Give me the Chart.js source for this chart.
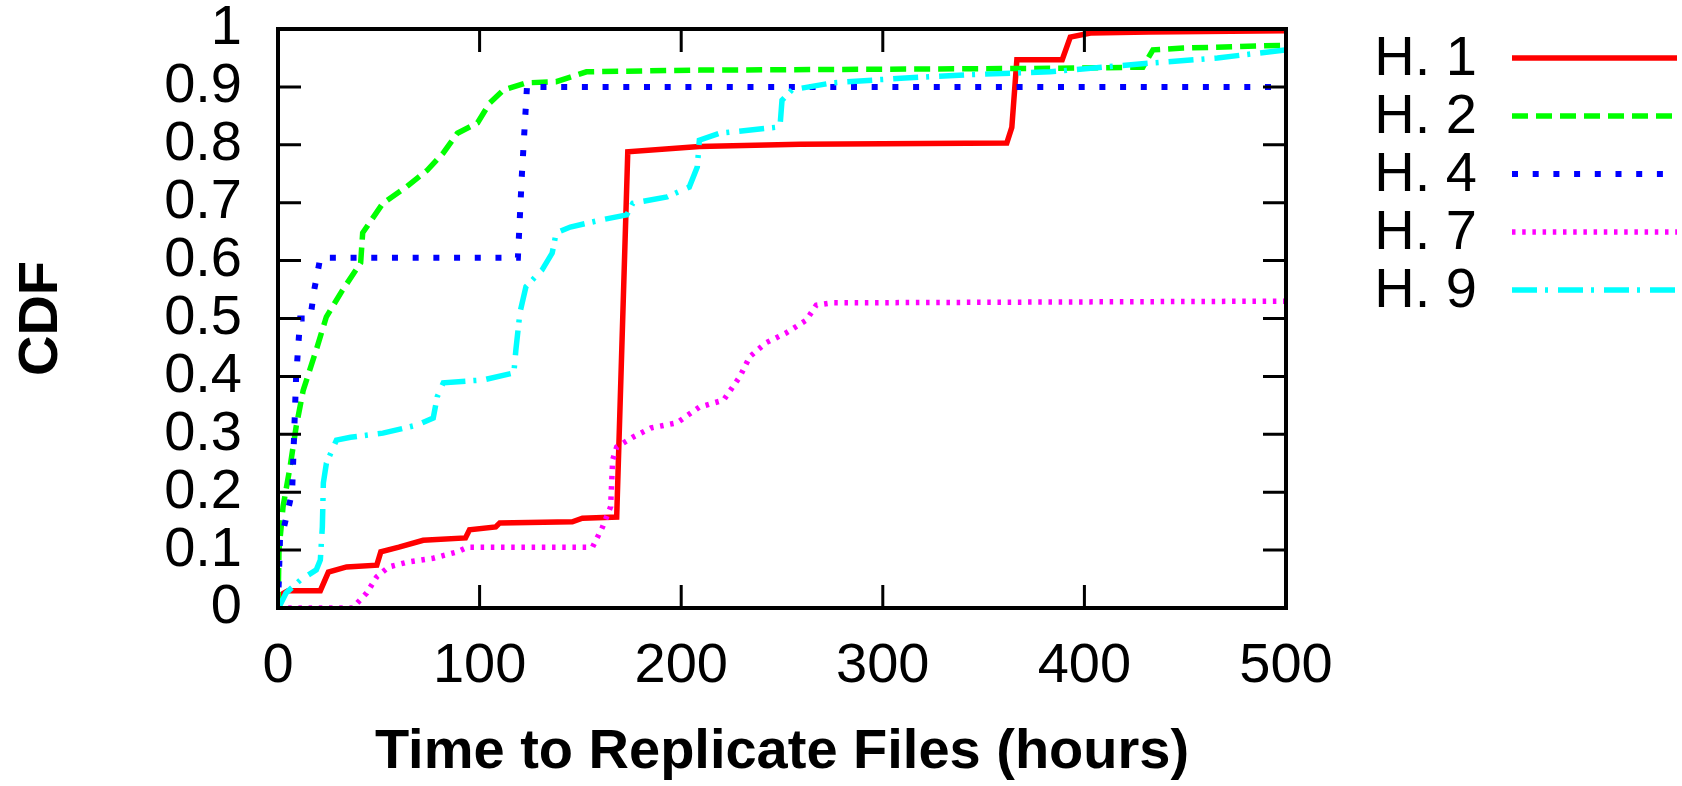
<!DOCTYPE html>
<html>
<head>
<meta charset="utf-8">
<title>CDF of time to replicate files</title>
<script src="https://cdn.jsdelivr.net/npm/chart.js@4.4.1/dist/chart.umd.min.js"></script>
<style>
  html, body { margin: 0; padding: 0; background: #fff; }
  #wrap { width: 1682px; height: 786px; position: relative; }
</style>
</head>
<body>
<div id="wrap"><canvas id="cdf"></canvas></div>
<script>
/* ── Data ───────────────────────────────────────────────────── */
const xTicks = [0, 100, 200, 300, 400, 500];
const yTicks = [0, 0.1, 0.2, 0.3, 0.4, 0.5, 0.6, 0.7, 0.8, 0.9, 1];
const xTitle = 'Time to Replicate Files (hours)';
const yTitle = 'CDF';

const h1Hours = [0, 5, 21, 25, 34, 49, 51, 60, 72, 93, 95, 108, 110, 146, 151, 168, 173.5, 209, 259, 361.5, 364, 366.5, 389, 393, 403, 432, 500];
const h1Cdf   = [0.02, 0.03, 0.03, 0.062, 0.071, 0.074, 0.097, 0.105, 0.117, 0.121, 0.135, 0.14, 0.147, 0.149, 0.155, 0.157, 0.788, 0.797, 0.801, 0.803, 0.83, 0.947, 0.947, 0.986, 0.993, 0.995, 0.997];

const h2Hours = [0, 0.5, 2.5, 6, 9, 12.5, 19, 24, 32, 41, 42, 52, 64, 74, 82, 89, 99, 105, 112, 123, 138, 145, 153, 209, 383, 429, 434, 449, 500];
const h2Cdf   = [0, 0.1, 0.175, 0.244, 0.313, 0.376, 0.446, 0.503, 0.549, 0.596, 0.648, 0.699, 0.728, 0.756, 0.786, 0.82, 0.838, 0.872, 0.895, 0.907, 0.909, 0.917, 0.926, 0.929, 0.932, 0.934, 0.964, 0.967, 0.972];

const h4Hours = [0, 1, 3, 7, 8, 9, 11, 16, 18, 21, 119, 121, 123.5, 500];
const h4Cdf   = [0, 0.12, 0.14, 0.2, 0.3, 0.4, 0.5, 0.5, 0.55, 0.605, 0.605, 0.75, 0.9, 0.9];

const h7Hours = [0, 37, 44, 49, 55, 64, 77, 89, 94, 156, 161, 165, 166, 168, 176, 185, 198, 209, 221, 229, 234, 242, 252, 262, 267, 275, 500];
const h7Cdf   = [0, 0, 0.026, 0.054, 0.071, 0.079, 0.086, 0.097, 0.105, 0.105, 0.14, 0.175, 0.256, 0.278, 0.295, 0.311, 0.32, 0.347, 0.359, 0.399, 0.434, 0.458, 0.475, 0.497, 0.523, 0.527, 0.53];

const h9Hours = [0, 1, 4, 11, 19, 21, 22, 22.5, 24, 29, 36, 52, 69, 77, 79, 82, 102, 117, 118, 120, 123, 131, 136, 138, 145, 160, 173, 176, 193, 204, 208, 209, 219, 249, 250, 255, 275, 309, 342, 383, 432, 466, 500];
const h9Cdf   = [0, 0.005, 0.026, 0.048, 0.066, 0.083, 0.14, 0.216, 0.25, 0.29, 0.295, 0.302, 0.316, 0.328, 0.365, 0.389, 0.394, 0.406, 0.446, 0.51, 0.555, 0.584, 0.613, 0.648, 0.658, 0.67, 0.679, 0.699, 0.71, 0.727, 0.762, 0.808, 0.82, 0.831, 0.877, 0.895, 0.907, 0.915, 0.921, 0.926, 0.941, 0.95, 0.964];

/* ── Styling ─────────────────────────────────────────────────── */
const FONT = "'Liberation Sans', Arial, Helvetica, sans-serif";
const TICK_LEN = 23;

const pairs = (xs, ys) => xs.map((x, i) => ({ x, y: ys[i] }));

const datasets = [
    { label: 'H. 1', data: pairs(h1Hours, h1Cdf), borderColor: '#ff0000', borderWidth: 5.5, borderDash: [], order: 5 },
    { label: 'H. 2', data: pairs(h2Hours, h2Cdf), borderColor: '#00ff00', borderWidth: 5.5, borderDash: [16, 8], order: 4 },
    { label: 'H. 4', data: pairs(h4Hours, h4Cdf), borderColor: '#0000ff', borderWidth: 6, borderDash: [6, 14.7], order: 3 },
    { label: 'H. 7', data: pairs(h7Hours, h7Cdf), borderColor: '#ff00ff', borderWidth: 5.5, borderDash: [3.5, 6.7], order: 2 },
    { label: 'H. 9', data: pairs(h9Hours, h9Cdf), borderColor: '#00ffff', borderWidth: 5.5, borderDash: [25, 8, 3, 10], order: 1 },
];

/* ── Frame + inward ticks on all four sides ─────────────────── */
const framePlugin = {
    id: 'frame',
    afterDatasetsDraw(chart) {
        const { ctx: c, chartArea: a, scales: { x, y } } = chart;
        c.save();
        c.strokeStyle = '#000';
        c.lineWidth = 3;
        c.beginPath();
        x.ticks.forEach(t => {
            const px = x.getPixelForValue(t.value);
            c.moveTo(px, a.bottom); c.lineTo(px, a.bottom - TICK_LEN);
            c.moveTo(px, a.top); c.lineTo(px, a.top + TICK_LEN);
        });
        y.ticks.forEach(t => {
            const py = y.getPixelForValue(t.value);
            c.moveTo(a.left, py); c.lineTo(a.left + TICK_LEN, py);
            c.moveTo(a.right, py); c.lineTo(a.right - TICK_LEN, py);
        });
        c.stroke();
        c.lineWidth = 4;
        c.strokeRect(a.left, a.top, a.right - a.left, a.bottom - a.top);
        c.restore();
    }
};

/* ── gnuplot-style key: label then line sample ──────────────── */
const keyPlugin = {
    id: 'sideKey',
    afterDraw(chart) {
        const c = chart.ctx;
        chart.data.datasets.forEach((ds, i) => {
            const yy = 58 + i * 58;
            c.save();
            c.font = `56px ${FONT}`;
            c.fillStyle = '#000';
            c.textAlign = 'right';
            c.textBaseline = 'middle';
            c.fillText(ds.label, 1477, yy + 2);
            c.strokeStyle = ds.borderColor;
            c.lineWidth = ds.borderWidth;
            c.setLineDash(ds.borderDash);
            c.beginPath();
            c.moveTo(1512, yy);
            c.lineTo(1677, yy);
            c.stroke();
            c.restore();
        });
    }
};

/* ── Chart ───────────────────────────────────────────────────── */
new Chart(document.getElementById('cdf').getContext('2d'), {
    type: 'line',
    data: { datasets },
    options: {
        responsive: true, maintainAspectRatio: false,
        animation: false,
        layout: { padding: { left: 0, top: 29, right: 396, bottom: 0 } },
        elements: { point: { radius: 0 }, line: { tension: 0, borderCapStyle: 'butt' } },
        plugins: { legend: { display: false }, tooltip: { enabled: false } },
        scales: {
            x: {
                type: 'linear', min: 0, max: 500,
                afterBuildTicks: s => { s.ticks = xTicks.map(v => ({ value: v })); },
                afterFit: s => { s.height = 178; s.paddingLeft = 0; s.paddingRight = 0; },
                grid: { display: false, drawTicks: false },
                border: { display: false },
                ticks: { color: '#000', font: { family: FONT, size: 56 }, padding: 25, maxRotation: 0, autoSkip: false },
                title: { display: true, text: xTitle, color: '#000', font: { family: FONT, size: 56, weight: 'bold' }, padding: { top: 0, bottom: 0 } },
            },
            y: {
                type: 'linear', min: 0, max: 1,
                afterBuildTicks: s => { s.ticks = yTicks.map(v => ({ value: v })); },
                afterFit: s => { s.width = 278; s.paddingTop = 0; s.paddingBottom = 0; },
                grid: { display: false, drawTicks: false },
                border: { display: false },
                ticks: { color: '#000', font: { family: FONT, size: 56 }, padding: 36, autoSkip: false, callback: v => String(v) },
                title: { display: true, text: yTitle, color: '#000', font: { family: FONT, size: 56, weight: 'bold' }, padding: { top: 8, bottom: 0 } },
            },
        },
    },
    plugins: [framePlugin, keyPlugin],
});
</script>
</body>
</html>
